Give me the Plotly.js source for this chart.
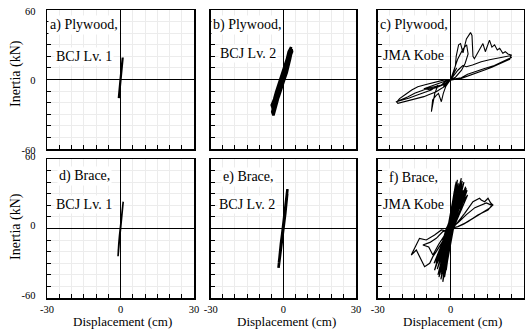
<!DOCTYPE html>
<html>
<head>
<meta charset="utf-8">
<script src="https://cdn.plot.ly/plotly-3.0.1.min.js"></script>
<style>
html,body{margin:0;padding:0;background:#fff;}
#chart{width:525px;height:331px;}
</style>
</head>
<body>
<div id="chart"></div>
<script>
// ---- Data (displacement in cm, inertia in kN) ----
const plyLv1X = [0, 0.2, 0.5, 0.7, 0.9, 0.8, 0.5, 0.2, -0.1, -0.4, -0.6, -0.7, -0.5, -0.2, 0.1, 0.4, 0.7, 0.8, 0.6, 0.3, 0, -0.3, -0.6, -0.4, -0.1, 0];
const plyLv1Y = [0, 4, 9, 14, 19, 15, 9, 3, -2, -8, -13, -16, -11, -5, 1, 7, 13, 17, 12, 6, 0, -6, -12, -7, -2, 0];

const plyLv2X = [0, 0.8, 1.6, 2.3, 2.8, 3.2, 2.2, 1.4, 0.6, -0.2, -1.2, -2.2, -3.2, -4.0, -4.6, -4.1,
  -3.2, -2.4, -1.6, -0.8, 0.2, 1.2, 2.0, 2.6, 3.4, 3.6,
  2.6, 1.6, 0.6, -0.6, -1.8, -2.8, -3.6, -4.4, -3.8,
  -2.8, -2.0, -1.0, 0, 0.8, 1.8, 2.4, 3.0, 2.6,
  1.8, 1.0, 0, -1.0, -2.0, -3.0, -3.8, -4.8, -4.2,
  -3.0, -1.8, -0.8, 0.4, 1.4, 2.2, 2.8, 3.2,
  2.0, 0.8, -0.4, -1.5, -2.6, -3.4, -4.2, -3.4, -2.2, -1.0, 0];
const plyLv2Y = [0, 6, 12, 18, 23, 28, 24, 17, 10, 4, -2, -8, -15, -22, -28, -31,
  -25, -18, -11, -5, 1, 8, 15, 21, 26, 24,
  19, 13, 6, 0, -6, -12, -19, -25, -27,
  -20, -13, -6, 0, 5, 11, 17, 22, 25,
  20, 14, 7, 1, -5, -11, -17, -22, -26,
  -21, -14, -7, 0, 6, 12, 18, 22,
  17, 10, 3, -3, -9, -14, -20, -18, -12, -5, 0];

const plyKobeX = [0, 1.5, 2.5, 1, -1, -3, -1.5, 0,
  1, 2, 2.3, 3.3, 4.1, 5.1, 6.5, 8.2, 8.8, 9.2, 9.8,
  11.9, 13.3, 14.3, 16, 17, 18.1, 19.2, 20.2, 21.5, 22.5, 23.6, 25,
  24.3, 22, 19.5, 17, 14, 11, 8.5, 6, 4.4, 2, 0,
  -2, -3.8, -6.5, -9.3, -12, -14.8, -17.5, -20.3, -22.3, -21.7, -18.9, -16, -13.5, -11, -9.3, -7.5, -5.9, -4, -2.5, -1, 0,
  1.5, 3, 5, 6.5, 9, 12.6, 16, 19.5, 22, 24.5, 25, 22, 18, 14, 10, 7, 4.4, 2, 0,
  3, 5, 6.6, 7.2, 6, 4.5, 2, 0,
  -2.5, -5, -7.9, -10.5, -13.5, -16, -18.9, -21, -22, -20, -17, -14, -11, -8, -5.2,
  -6.5, -7.9, -7.4, -6, -5, -3.8, -3, -2, 0,
  -3, -6, -9, -11, -9, -6, -3, 0];
const plyKobeY = [0, 6, 10, 4, -3, -6, -3, 0,
  5, 12, 20, 30, 31, 23, 35, 40.5, 38, 20, 18,
  25.5, 31, 24, 34, 28, 30, 25.5, 27, 22.6, 24, 22, 21,
  17.4, 15, 12.5, 10.5, 8.2, 6, 3.9, 2, 1, 0.3, -0.3,
  -1.5, -4.7, -6, -7.6, -9.8, -11.9, -14.8, -17.7, -19.2, -20.6, -19.2, -17.8, -16.3, -14.8, -13.4, -12, -10.5, -8, -6.2, -3, 0,
  4, 8, 12, 11, 12.5, 15.4, 17, 18.3, 19.5, 20.5, 19, 16, 12, 9.5, 7, 4.5, 1.5, 0.5, 0,
  18, 26, 30, 22, 14, 8, 2, 0,
  -0.3, -1.5, -2.7, -4.5, -6.2, -9, -13.4, -16.5, -19, -18, -16, -13.5, -11, -9, -5,
  -12, -27.8, -17.7, -14, -12, -19.2, -12, -6, 0,
  -2, -4, -6.5, -8, -8.5, -7, -4.5, 0];

const braceLv1X = [0, 0.3, 0.6, 0.9, 1.1, 0.8, 0.4, 0, -0.4, -0.7, -1.0, -0.8, -0.4, 0, 0.4, 0.8, 1.0, 0.7, 0.3, -0.1, -0.5, -0.9, -0.6, -0.2, 0];
const braceLv1Y = [0, 5, 11, 17, 23, 18, 10, 2, -6, -13, -24, -17, -9, -1, 7, 15, 21, 16, 8, 0, -8, -19, -14, -5, 0];

const braceLv2X = [0, 0.4, 0.9, 1.3, 1.7, 1.3, 0.7, 0.1, -0.5, -1.0, -1.5, -2.0, -1.6, -1.0, -0.4, 0.2, 0.8, 1.3, 1.6, 1.1, 0.5, -0.1, -0.7, -1.2, -1.8, -1.4, -0.8, -0.2, 0];
const braceLv2Y = [0, 8, 17, 25, 34, 27, 16, 6, -5, -13, -22, -34, -26, -16, -7, 3, 13, 22, 30, 21, 11, 1, -9, -18, -29, -23, -13, -4, 0];

const braceKobeX = [0, 2.3, -1.2, -3.2, 0.8, 4.4, -0.8, -4.5, 1.0, 5.1, -1.5, -5.9, 0.5, 6.5, -0.6, -2.5,
  1.2, 6.8, -1.8, -6.6, -0.5, 1.5, -1.0, -1.8, 0.6, 3.5, -1.4, -3.8, 0.9, 4.8, -0.4, -5,
  0.2, 5.8, -0.9, -2.2, 0.4, 3, -1.6, -4.2, 1.3, 6, -0.7, -6, 0.3, 2.6, -1.1, -3, 0,
  1.2, 1.2, -0.6, -5.2, 0.7, 4, -1.3, -2.8, 0.1, 2, -0.9, -6.2, 0.9, 5.5, -0.5, -4, 1.1, 7, -1.5, -1.5,
  0.4, 3.8, -0.8, -5.5, 0.6, 6.2, -1.2, -3.5, 0.2, 2.8, -0.7, -4.8, 1.0, 4.6, -1.7, -2, -0.1, 1.8,
  -1.0, -6.8, 0.5, 5.2, -0.6, -3, 0.8, 3.2, -1.3, -4.4, 0,
  2, 5.8, 9.2, 11.9, 12.6, 14, 15.4, 16.5, 17.4, 16, 14, 11.2, 8, 5.5, 3, 0,
  3, 6.5, 10, 12.5, 14.7, 17, 15.4, 11.2, 7.1, 3, 0,
  -2, -3.8, -6.6, -10, -12.8, -14.1, -16.2, -14.1, -12.1, -10.7, -8.6, -7.3, -5.9, -3, 0,
  -3.2, -5.9, -8.5, -11.4, -9, -7.3, -5, -2.5, 0];
const braceKobeY = [0, 40.4, 0, -46, 0, 43.4, 0, -38, 0, 37.6, 0, -28.7, 0, 34.7, 0, -42,
  0, 33, 0, -36, 0, 31.8, 0, -36, 0, 36, 0, -40, 0, 41, 0, -32,
  0, 30, 0, -30, 0, 27, 0, -26, 0, 28, 0, -30, 0, 35, 0, -34, 0,
  26, 26, 0, -40, 0, 33, 0, -38, 0, 38, 0, -33, 0, 40, 0, -44, 0, 29, 0, -27,
  0, 30, 0, -35, 0, 36, 0, -30, 0, 42, 0, -42, 0, 25, 0, -33, 0, 28,
  0, -30, 0, 33, 0, -37, 0, 39, 0, -34, 0,
  3, 13.1, 23.1, 26.1, 24.6, 23.1, 26.1, 22, 20.3, 17.5, 15, 11.7, 7, 4, 1.6, 0,
  5, 12, 18, 20.3, 22, 20, 16, 11.7, 5.9, 1.6, 0,
  -2, -1.3, -5.6, -9.9, -8.5, -14.2, -22.9, -18.6, -27.2, -33, -30.1, -24.3, -20, -10, 0,
  -2.7, -8.5, -12, -14.2, -16, -22.9, -14, -6, 0];

const xTickVals = [-30, 0, 30];
const xTickText = ['-30', '0', '30'];
const yTickVals = [-60, 0, 60];
const yTickText = ['-60', '0', '60'];

const panelLine1 = ['a) Plywood,', 'b) Plywood,', 'c) Plywood,', 'd) Brace,', 'e) Brace,', 'f) Brace,'];
const panelLine2 = ['BCJ Lv. 1', 'BCJ Lv. 2', 'JMA Kobe', 'BCJ Lv. 1', 'BCJ Lv. 2', 'JMA Kobe'];
const xTitle = 'Displacement (cm)';
const yTitle = 'Inertia (kN)';

// ---- Layout helpers ----
const W = 525, H = 331;
const px = v => v / W;
const py = v => 1 - v / H;
const FONT = '"Liberation Serif", serif';

const colDom = [[px(47), px(194)], [px(210.7), px(356)], [px(377.7), px(523.5)]];
const rowDom = [[py(149), py(10)], [py(298), py(159)]];

const seriesX = [plyLv1X, plyLv2X, plyKobeX, braceLv1X, braceLv2X, braceKobeX];
const seriesY = [plyLv1Y, plyLv2Y, plyKobeY, braceLv1Y, braceLv2Y, braceKobeY];
const widths = [2.2, 2.6, 1.1, 1.6, 2.6, 1.2];

const traces = [];
const layout = {
  width: W, height: H,
  margin: {l: 0, r: 0, t: 0, b: 0},
  paper_bgcolor: '#fff', plot_bgcolor: '#fff',
  showlegend: false,
  font: {family: FONT, size: 11, color: '#000'},
  annotations: []
};

for (let i = 0; i < 6; i++) {
  const r = Math.floor(i / 3), c = i % 3;
  const n = i + 1;
  const xa = 'x' + (n === 1 ? '' : n), ya = 'y' + (n === 1 ? '' : n);
  traces.push({
    type: 'scatter', mode: 'lines',
    x: seriesX[i], y: seriesY[i],
    xaxis: xa, yaxis: ya,
    line: {color: '#000', width: widths[i]},
    hoverinfo: 'skip'
  });
  layout['xaxis' + (n === 1 ? '' : n)] = {
    domain: colDom[c], anchor: ya, range: [-30, 30],
    tickmode: 'array', tickvals: xTickVals, ticktext: xTickText,
    showticklabels: r === 1, ticks: 'inside', ticklen: 4, tickcolor: '#000',
    ticklabelstandoff: 1,
    showgrid: false, zeroline: true, zerolinecolor: '#000', zerolinewidth: 1,
    showline: true, linecolor: '#000', linewidth: 1.5, mirror: true,
    tickfont: {family: FONT, size: 10.5, color: '#000'},
    minor: {tickmode: 'linear', tick0: 0, dtick: 5, ticks: 'inside', ticklen: 4, tickcolor: '#000',
            showgrid: true, gridcolor: '#ececec', gridwidth: 1},
    fixedrange: true
  };
  layout['yaxis' + (n === 1 ? '' : n)] = {
    domain: rowDom[r], anchor: xa, range: [-60, 60],
    tickmode: 'array', tickvals: yTickVals, ticktext: yTickText,
    showticklabels: c === 0, ticks: 'inside', ticklen: 4, tickcolor: '#000',
    ticklabelstandoff: 8, ticklabelshift: r === 0 ? 1 : -3,
    showgrid: false, zeroline: true, zerolinecolor: '#000', zerolinewidth: 1,
    showline: true, linecolor: '#000', linewidth: 1.5, mirror: true,
    tickfont: {family: FONT, size: 10.5, color: '#000'},
    minor: {tickmode: 'linear', tick0: 0, dtick: 10, ticks: 'inside', ticklen: 4, tickcolor: '#000',
            showgrid: true, gridcolor: '#ececec', gridwidth: 1},
    fixedrange: true
  };
}

// panel labels (pixel positions)
const lab1Pos = [[48, 25], [211, 25], [378, 25], [57, 176], [221, 177], [387, 178]];
const lab2Pos = [[54, 56], [218, 54], [381, 55], [54, 204], [217, 205], [381, 205]];
for (let i = 0; i < 6; i++) {
  [[panelLine1[i], lab1Pos[i]], [panelLine2[i], lab2Pos[i]]].forEach(([t, p]) => {
    layout.annotations.push({
      text: t, xref: 'paper', yref: 'paper', x: px(p[0]), y: py(p[1]),
      xanchor: 'left', yanchor: 'middle', showarrow: false,
      bgcolor: '#fff', borderpad: 1,
      font: {family: FONT, size: 14, color: '#000'}
    });
  });
}
// axis titles
[[122.5, 321.5], [286, 321.5], [452, 321.5]].forEach(p => {
  layout.annotations.push({
    text: xTitle, xref: 'paper', yref: 'paper', x: px(p[0]), y: py(p[1]),
    xanchor: 'center', yanchor: 'middle', showarrow: false,
    font: {family: FONT, size: 13, color: '#000'}
  });
});
[[16, 74], [16, 227]].forEach(p => {
  layout.annotations.push({
    text: yTitle, xref: 'paper', yref: 'paper', x: px(p[0]), y: py(p[1]),
    xanchor: 'center', yanchor: 'middle', showarrow: false, textangle: -90,
    font: {family: FONT, size: 14, color: '#000'}
  });
});

Plotly.newPlot('chart', traces, layout, {staticPlot: true, displayModeBar: false});
</script>
</body>
</html>
